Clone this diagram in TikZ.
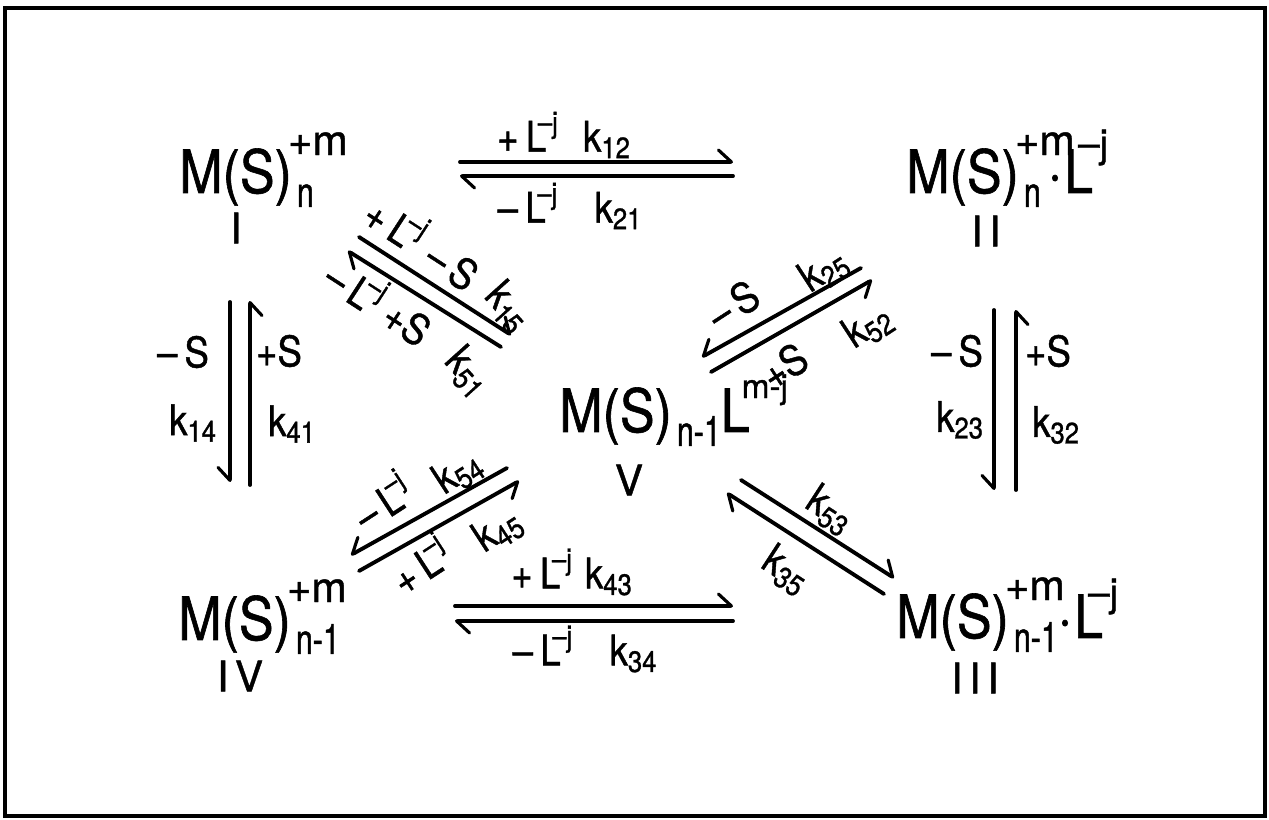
\documentclass[tikz,border=0pt]{standalone}
\usepackage{amsmath}
\usepackage{fontspec}
\setmainfont{TeX Gyre Heros}
\newfontfamily\handfont[Ligatures=TeX,FakeStretch=0.87,FakeBold=1]{TeX Gyre Heros}
\newfontfamily\widefont[Ligatures=TeX,FakeBold=1]{TeX Gyre Heros}
\newfontfamily\indexfont[Ligatures=TeX,FakeStretch=0.72,FakeBold=1]{TeX Gyre Heros}
\newfontfamily\numfont[LetterSpace=15,FakeBold=1]{TeX Gyre Heros}
\usetikzlibrary{arrows.meta}
\tikzset{
  species/.style={font=\handfont\fontsize{34}{36}\selectfont, inner sep=0pt, anchor=base west},
  numeral/.style={font=\numfont\fontsize{24}{28}\selectfont, inner sep=0pt},
  rate/.style={font=\handfont\fontsize{24}{28}\selectfont, inner sep=0pt},
  eqleft/.style={line width=2.2pt, line cap=round, -{Straight Barb[left,round,length=2.6mm,width=4.8mm,line width=1.8pt]}},
  eqright/.style={line width=2.2pt, line cap=round, -{Straight Barb[right,round,length=2.6mm,width=4.8mm,line width=1.8pt]}}
}
% raised charge and lowered index of a complex, then the ligand
\newcommand{\chg}[1]{\rlap{\kern-.8mm\raisebox{7.6mm}{\widefont\fontsize{24}{24}\selectfont #1}}}
\newcommand{\idx}[1]{\raisebox{-2.8mm}{\kern1mm\indexfont\fontsize{24}{24}\selectfont #1}}
\newcommand{\lig}[1]{L\kern-3mm\raisebox{#1}{\widefont\fontsize{22}{22}\selectfont --j}}
\newcommand{\Lj}{{\text{L\kern-.2em}}^{\text{--j}}}
\newcommand{\rk}[1]{\text{k}_{\text{#1}}}
\begin{document}
\begin{tikzpicture}[x=0.02cm, y=-0.02cm]
    \useasboundingbox (0,0) rectangle (1269,820);
    \draw[line width=2.8pt] (5,8) rectangle (1265,816);

    % complexes
    \node[species] (one) at (179,193) {M(S)\chg{+m}\idx{n}};
    \node[species] (two) at (906,193) {M(S)\chg{+m}\idx{n}\kern1.4mm·\kern.4mm\lig{7.2mm}};
    \node[species] (three) at (896,638) {M(S)\chg{+m}\idx{n-1}·\kern.4mm\lig{6.4mm}};
    \node[species] (four) at (178,640) {M(S)\chg{+m}\idx{n-1}};
    \node[species] (five) at (559,432) {M(S)\idx{n-1}L\kern-1.6mm\raisebox{6.8mm}{\widefont\fontsize{19}{19}\selectfont m-j}};

    % roman numerals
    \node[numeral] (labone) at (236,228) {I};
    \node[numeral] (labtwo) at (986,231) {II};
    \node[numeral] (labthree) at (975,678) {III};
    \node[numeral] (labfour) at (240,676) {IV};
    \node[numeral] (labfive) at (629,480) {V};

    % ends of the arrows
    \coordinate (p12a) at (460,162);
    \coordinate (p12b) at (733,162);
    \coordinate (p21a) at (733,176);
    \coordinate (p21b) at (460,176);
    \coordinate (p43a) at (455,606);
    \coordinate (p43b) at (733,606);
    \coordinate (p34a) at (733,621);
    \coordinate (p34b) at (455,621);
    \coordinate (p14a) at (230,302);
    \coordinate (p14b) at (230,482);
    \coordinate (p41a) at (250,485);
    \coordinate (p41b) at (250,301);
    \coordinate (p23a) at (994,310);
    \coordinate (p23b) at (994,490);
    \coordinate (p32a) at (1016,490);
    \coordinate (p32b) at (1016,310);
    \coordinate (p15a) at (359,237);
    \coordinate (p15b) at (511,335);
    \coordinate (p51a) at (501,347);
    \coordinate (p51b) at (348,251);
    \coordinate (p25a) at (861,268);
    \coordinate (p25b) at (702,357);
    \coordinate (p52a) at (711,372);
    \coordinate (p52b) at (872,280);
    \coordinate (p54a) at (507,468);
    \coordinate (p54b) at (351,555);
    \coordinate (p45a) at (359,571);
    \coordinate (p45b) at (519,481);
    \coordinate (p53a) at (741,480);
    \coordinate (p53b) at (894,578);
    \coordinate (p35a) at (884,594);
    \coordinate (p35b) at (727,493);

    % horizontal arrows
    \draw[eqleft] (p12a) -- (p12b);
    \draw[eqleft] (p21a) -- (p21b);
    \draw[eqleft] (p43a) -- (p43b);
    \draw[eqleft] (p34a) -- (p34b);

    % vertical arrows
    \draw[eqright] (p14a) -- (p14b);
    \draw[eqright] (p41a) -- (p41b);
    \draw[eqright] (p23a) -- (p23b);
    \draw[eqright] (p32a) -- (p32b);

    % diagonal arrows
    \draw[eqleft] (p15a) -- (p15b);
    \draw[eqleft] (p51a) -- (p51b);
    \draw[eqright] (p25a) -- (p25b);
    \draw[eqright] (p52a) -- (p52b);
    \draw[eqright] (p54a) -- (p54b);
    \draw[eqright] (p45a) -- (p45b);
    \draw[eqleft] (p53a) -- (p53b);
    \draw[eqleft] (p35a) -- (p35b);

    % labels of the horizontal arrows
    \node[rate] (t12) at (564,135) {$\text{+}\,\Lj\;\;\rk{12}$};
    \node[rate] (t21) at (570,206) {$\text{--}\,\Lj\;\;\;\rk{21}$};
    \node[rate] (t43) at (572,572) {$\text{+}\,\Lj\;\rk{43}$};
    \node[rate] (t34) at (585,649) {$\text{--}\,\Lj\;\;\;\rk{34}$};

    % labels of the vertical arrows
    \node[rate] (tm1) at (183,352) {--\,S};
    \node[rate] (tp1) at (279,351) {+S};
    \node[rate] (t14) at (193,423) {$\rk{14}$};
    \node[rate] (t41) at (292,424) {$\rk{41}$};
    \node[rate] (tm2) at (957,351) {--\,S};
    \node[rate] (tp2) at (1048,351) {+S};
    \node[rate] (t23) at (960,420) {$\rk{23}$};
    \node[rate] (t32) at (1056,425) {$\rk{32}$};

    % labels of the diagonal arrows
    \node[rate, rotate=-33] (t15a) at (397,222) {$\text{+}\,\Lj$};
    \node[rate, rotate=-33] (t15b) at (452,266) {--\,S};
    \node[rate, rotate=-48] (t15) at (508,307) {$\rk{15}$};
    \node[rate, rotate=-33] (t51a) at (357,285) {$\text{--}\,\Lj$};
    \node[rate, rotate=-33] (t51b) at (407,323) {+S};
    \node[rate, rotate=-48] (t51) at (468,372) {$\rk{51}$};
    \node[rate, rotate=33] (t25a) at (733,305) {--\,S};
    \node[rate, rotate=33] (t25) at (824,270) {$\rk{25}$};
    \node[rate, rotate=33] (t52) at (868,326) {$\rk{52}$};
    \node[rate, rotate=33] (t52a) at (784,366) {+S};
    \node[rate, rotate=33] (t54a) at (381,500) {$\text{--}\,\Lj$};
    \node[rate, rotate=33] (t54) at (458,472) {$\rk{54}$};
    \node[rate, rotate=33] (t45a) at (419,563) {$\text{+}\,\Lj$};
    \node[rate, rotate=33] (t45) at (498,530) {$\rk{45}$};
    \node[rate, rotate=-33] (t53) at (830,510) {$\rk{53}$};
    \node[rate, rotate=-33] (t35) at (786,570) {$\rk{35}$};
\end{tikzpicture}
\end{document}
